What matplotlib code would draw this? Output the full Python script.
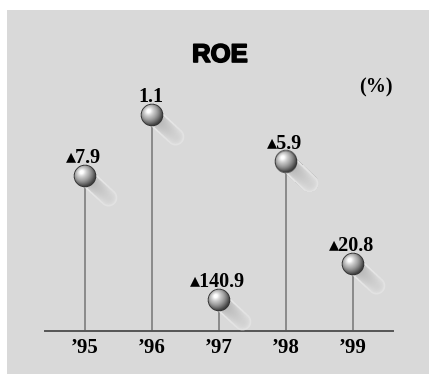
import numpy as np
import matplotlib
matplotlib.use("Agg")
import matplotlib.pyplot as plt
import matplotlib.patheffects as pe
from matplotlib.patches import Rectangle
from matplotlib.offsetbox import OffsetImage, AnnotationBbox

years = ["\u201995", "\u201996", "\u201997", "\u201998", "\u201999"]
roe = [-7.9, 1.1, -140.9, -5.9, -20.8]   # ROE (%), negative shown with a triangle

# broken value axis: linear above BRK, squeezed below it
BRK = -22.0
SQ = 0.0345

def fwd(v):
    v = np.asarray(v, dtype=float)
    return np.where(v >= BRK, v, BRK + (v - BRK) * SQ)

def inv(u):
    u = np.asarray(u, dtype=float)
    return np.where(u >= BRK, u, BRK + (u - BRK) / SQ)


def ball_image(r=11.3, tail=32.0, tail_r=8.8, half=46, ss=4):
    # shaded sphere with a soft motion trail to the lower right (RGBA)
    n = 2 * half * ss
    c = (np.arange(n) + 0.5) / ss - half
    X, Y = np.meshgrid(c, c)
    # trail
    ux, uy = 0.735, 0.678
    t = X * ux + Y * uy
    tc = np.clip(t, 0, tail)
    ds = np.hypot(X - tc * ux, Y - tc * uy)
    tf = np.clip(t / tail, 0, 1)
    core = 0.66 + 0.12 * (ds / tail_r) ** 2 + 0.14 * tf
    g_t = np.where(ds > tail_r - 1.6, 0.92, core)
    a_t = (ds < tail_r) * np.clip(1.0 - 0.45 * tf, 0, 1)
    # ball
    rr = np.hypot(X, Y) / r
    a_b = (rr < 1).astype(float)
    nz = np.sqrt(np.clip(1 - rr ** 2, 0, 1))
    nx, ny = X / r, -Y / r
    L = np.array([-0.30, 0.35, 0.89])
    L = L / np.linalg.norm(L)
    diff = np.clip(nx * L[0] + ny * L[1] + nz * L[2], 0, 1)
    spec = diff ** 20
    g_b = 0.24 + 0.62 * diff ** 1.4 + 0.18 * spec
    g_b = np.where(rr > 0.92, 0.2, g_b)
    # composite ball over trail (premultiplied)
    a = a_b + a_t * (1 - a_b)
    pg = g_b * a_b + g_t * a_t * (1 - a_b)
    a = a.reshape(2 * half, ss, 2 * half, ss).mean(axis=(1, 3))
    pg = pg.reshape(2 * half, ss, 2 * half, ss).mean(axis=(1, 3))
    g = np.clip(np.where(a > 0, pg / np.maximum(a, 1e-9), 0), 0, 1)
    img = np.zeros((2 * half, 2 * half, 4))
    img[..., 0] = g
    img[..., 1] = g
    img[..., 2] = g
    img[..., 3] = np.clip(a, 0, 1)
    return img


serif = ["Liberation Serif", "DejaVu Sans"]

fig = plt.figure(figsize=(4.29, 3.74), dpi=100)
fig.patch.set_facecolor("white")
fig.patches.append(Rectangle((7 / 429, 0), 1, 1 - 10 / 374, transform=fig.transFigure,
                             facecolor="#d9d9d9", edgecolor="none", zorder=-10))

ax = fig.add_axes([45 / 429, 1 - 330.7 / 374, 348 / 429, (330.7 - 40) / 374])
ax.set_facecolor("none")
ax.set_yscale("function", functions=(fwd, inv))
ax.set_xlim(-0.59, 4.6)
ax.set_ylim(float(inv(-30.64)), 12.08)

x = np.arange(len(years))
ymin = ax.get_ylim()[0]
ax.vlines(x, ymin, roe, color="#8a8a8a", lw=1.4, zorder=1)

ball = ball_image()
for xi, v in zip(x, roe):
    ab = AnnotationBbox(OffsetImage(ball, zoom=1, dpi_cor=False), (xi, v),
                        frameon=False, pad=0, box_alignment=(0.5, 0.5), zorder=3)
    ax.add_artist(ab)
    lab = f"\u25b4{abs(v):.1f}" if v < 0 else f"{v:.1f}"
    ax.annotate(lab, (xi, v), xytext=(-1, 13), textcoords="offset pixels",
                ha="center", va="baseline", fontsize=14.5, fontweight="bold",
                family=serif, color="black", zorder=4)

for s in ["top", "left", "right"]:
    ax.spines[s].set_visible(False)
ax.spines["bottom"].set_color("#555555")
ax.spines["bottom"].set_linewidth(1.4)
ax.set_yticks([])
ax.yaxis.set_minor_locator(matplotlib.ticker.NullLocator())
ax.set_xticks(x)
ax.set_xticklabels(years, fontsize=15, fontweight="bold", family=serif)
ax.tick_params(axis="x", length=0, pad=5)

fig.text(220 / 429, 1 - 55 / 374, "ROE", ha="center", va="center",
         fontsize=18.5, fontweight="bold", family="Liberation Sans",
         path_effects=[pe.withStroke(linewidth=1.2, foreground="black")])
fig.text(375.5 / 429, 1 - 87 / 374, "(%)", ha="center", va="center",
         fontsize=14.5, fontweight="bold", family=serif)

fig.savefig("out.png", dpi=100, facecolor=fig.get_facecolor())
